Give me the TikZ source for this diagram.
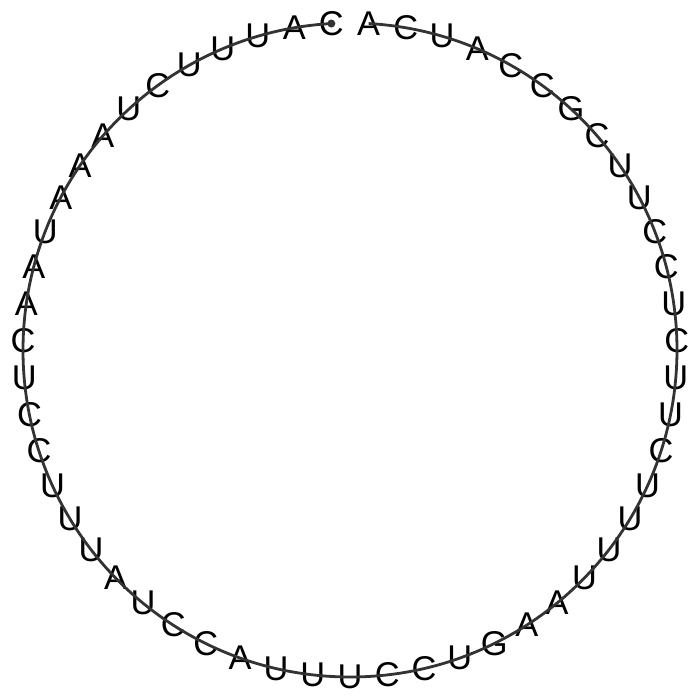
\documentclass[tikz,border=0pt]{standalone}
\usepackage{fontspec}
\setmainfont{Liberation Sans}
\begin{document}
\begin{tikzpicture}[x=1bp,y=1bp,
  base/.style={inner sep=0pt, text=black, font=\fontsize{34.5}{34.5}\selectfont},
  backbone/.style={draw=black!80, line width=2.8bp},
  enddot/.style={fill=black!80}]
\useasboundingbox (-350,-350) rectangle (350,350);
\foreach \s [count=\i] in {A,C,U,A,C,C,G,C,U,U,C,C,U,C,U,U,C,U,U,U,U,A,A,G,U,C,C,U,U,U,A,C,C,U,A,U,U,U,C,C,U,C,A,A,U,A,A,A,U,C,U,U,U,A,C} {
  \pgfmathsetmacro{\ang}{86.7273-(\i-1)*6.54545}
  \pgfmathsetmacro{\px}{327*cos(\ang)}
  \pgfmathsetmacro{\py}{327*sin(\ang)}
  \node[base] (b\i) at (\px,\py) {\s};
}
\draw[backbone] (b1.center) arc[start angle=86.7273, end angle=-266.7273, radius=327];
\fill[enddot] (b55.center) circle (4);
\end{tikzpicture}
\end{document}
